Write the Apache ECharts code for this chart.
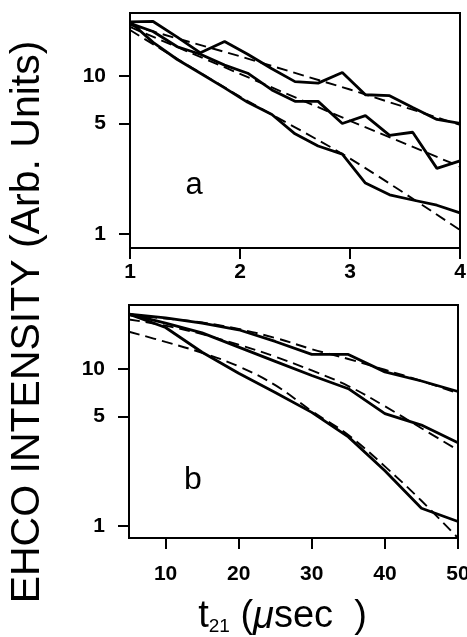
<!DOCTYPE html>
<html><head><meta charset="utf-8">
<script src="https://cdn.jsdelivr.net/npm/echarts@6/dist/echarts.min.js"></script>
<style>html,body{margin:0;padding:0;background:#fff}#c{width:467px;height:637px}</style>
</head><body><div id="c"></div>
<script>
// ---- Panel a (x: t21 in µs, 1..4) ----
const aTimes   = [1.00, 1.21, 1.43, 1.64, 1.86, 2.07, 2.29, 2.50, 2.71, 2.93, 3.14, 3.36, 3.57, 3.79, 4.00];
const aUpper   = [22.0, 22.1, 17.6, 14.0, 16.5, 13.7, 11.1, 9.2, 9.0, 10.5, 7.6, 7.5, 6.3, 5.3, 5.0];
const aMiddle  = [21.5, 19.1, 15.3, 13.7, 11.7, 10.4, 8.15, 6.9, 6.9, 5.0, 5.6, 4.2, 4.4, 2.6, 2.9];
const aLower   = [22.0, 16.3, 12.7, 10.4, 8.4, 6.8, 5.7, 4.3, 3.6, 3.2, 2.1, 1.77, 1.64, 1.52, 1.36];
const aFitTimes  = [1, 2, 3, 4];
const aFitUpper  = [21.0, 13.3, 8.2, 4.9];
const aFitMiddle = [20.4, 10.3, 5.2, 2.67];
const aFitLower  = [19.5, 7.4, 3.0, 1.06];
const aXTicks = [1, 2, 3, 4];

// ---- Panel b (x: t21 in µs, 5..50) ----
const bTimes   = [5, 10, 15, 20, 25, 30, 35, 40, 45, 50];
const bUpper   = [22.4, 21.2, 19.6, 17.8, 15.0, 12.4, 12.4, 9.6, 8.4, 7.2];
const bMiddle  = [22.4, 19.6, 17.0, 13.8, 11.2, 9.1, 7.5, 5.2, 4.4, 3.4];
const bLower   = [22.4, 18.4, 12.8, 9.4, 7.1, 5.3, 3.7, 2.25, 1.3, 1.07];
const bFitUpper  = [22.0, 21.0, 19.8, 18.0, 15.8, 13.4, 11.6, 9.9, 8.4, 7.0];
const bFitMiddle = [20.7, 18.9, 16.7, 14.3, 12.0, 9.8, 7.8, 5.8, 4.2, 3.05];
const bFitLower  = [17.3, 14.9, 12.7, 10.4, 7.9, 5.4, 3.8, 2.4, 1.45, 0.84];
const bXTicks = [10, 20, 30, 40, 50];

const yTicks = [1, 5, 10];

const zip = (xs, ys) => xs.map((x, i) => [x, ys[i]]);
const FONT = 'Liberation Sans, Arial, Helvetica, sans-serif';

function solid(name, xi, data) {
  return { name, type: 'line', xAxisIndex: xi, yAxisIndex: xi, data, symbol: 'none',
    lineStyle: { color: '#000', width: 2.8, type: 'solid' }, z: 3, animation: false };
}
function dashed(name, xi, data, smooth) {
  return { name, type: 'line', xAxisIndex: xi, yAxisIndex: xi, data, symbol: 'none', smooth: smooth,
    lineStyle: { color: '#000', width: 1.9, type: [11, 6] }, z: 2, animation: false };
}
function yAxis(gi, min, max) {
  return { type: 'log', logBase: 10, gridIndex: gi, min, max,
    axisLine: { show: true, lineStyle: { color: '#000', width: 2 } },
    axisTick: { show: true, length: 11, lineStyle: { color: '#000', width: 2 }, customValues: yTicks },
    axisLabel: { color: '#000', fontFamily: FONT, fontWeight: 'bold', fontSize: 21, margin: 24, customValues: yTicks },
    splitLine: { show: false }, minorTick: { show: false } };
}
function xAxis(gi, min, max, ticks, margin) {
  return { type: 'value', gridIndex: gi, min, max,
    axisLine: { show: true, onZero: false, lineStyle: { color: '#000', width: 2 } },
    axisTick: { show: true, length: 11, lineStyle: { color: '#000', width: 2 }, customValues: ticks },
    axisLabel: { color: '#000', fontFamily: FONT, fontWeight: 'bold', fontSize: 21, margin, customValues: ticks },
    splitLine: { show: false } };
}

const xb = xAxis(1, 5, 50, bXTicks, 26);
xb.name = '{t|t}{s|21}{t| (}{m|μ}{t|sec  )}';
xb.nameLocation = 'middle';
xb.nameGap = 60;
xb.nameTextStyle = { padding: [0, 22, 0, 0], rich: {
  t: { fontSize: 38, fontFamily: FONT, color: '#000', lineHeight: 38 },
  s: { fontSize: 19, fontFamily: FONT, color: '#000', verticalAlign: 'bottom', lineHeight: 38 },
  m: { fontSize: 38, fontFamily: FONT, fontStyle: 'italic', color: '#000', lineHeight: 38 }
} };

const option = {
  backgroundColor: '#fff',
  animation: false,
  grid: [
    { left: 130, right: 7, top: 13, height: 235, outerBoundsMode: 'none', containLabel: false, show: true, borderColor: '#000', borderWidth: 2, backgroundColor: 'transparent' },
    { left: 129, right: 9, top: 305, height: 233, outerBoundsMode: 'none', containLabel: false, show: true, borderColor: '#000', borderWidth: 2, backgroundColor: 'transparent' }
  ],
  xAxis: [ xAxis(0, 1, 4, aXTicks, 14), xb ],
  yAxis: [ yAxis(0, 0.815, 25.0), yAxis(1, 0.84, 25.6) ],
  series: [
    solid('a1', 0, zip(aTimes, aUpper)),
    solid('a2', 0, zip(aTimes, aMiddle)),
    solid('a3', 0, zip(aTimes, aLower)),
    dashed('a1 fit', 0, zip(aFitTimes, aFitUpper), false),
    dashed('a2 fit', 0, zip(aFitTimes, aFitMiddle), false),
    dashed('a3 fit', 0, zip(aFitTimes, aFitLower), 0.3),
    solid('b1', 1, zip(bTimes, bUpper)),
    solid('b2', 1, zip(bTimes, bMiddle)),
    solid('b3', 1, zip(bTimes, bLower)),
    dashed('b1 fit', 1, zip(bTimes, bFitUpper), 0.4),
    dashed('b2 fit', 1, zip(bTimes, bFitMiddle), 0.4),
    dashed('b3 fit', 1, zip(bTimes, bFitLower), 0.4)
  ],
  graphic: [
    { type: 'text', x: 28, y: 322, rotation: Math.PI / 2,
      style: { text: 'EHCO INTENSITY (Arb. Units)', fontSize: 41, fontFamily: FONT, fill: '#000', align: 'center', verticalAlign: 'middle' } },
    { type: 'text', x: 194, y: 185, style: { text: 'a', fontSize: 31, fontFamily: FONT, fill: '#000', align: 'center', verticalAlign: 'middle' } },
    { type: 'text', x: 193, y: 480, style: { text: 'b', fontSize: 32, fontFamily: FONT, fill: '#000', align: 'center', verticalAlign: 'middle' } }
  ]
};
const chart = echarts.init(document.getElementById('c'), null, { renderer: 'canvas' });
chart.setOption(option);
</script></body></html>
